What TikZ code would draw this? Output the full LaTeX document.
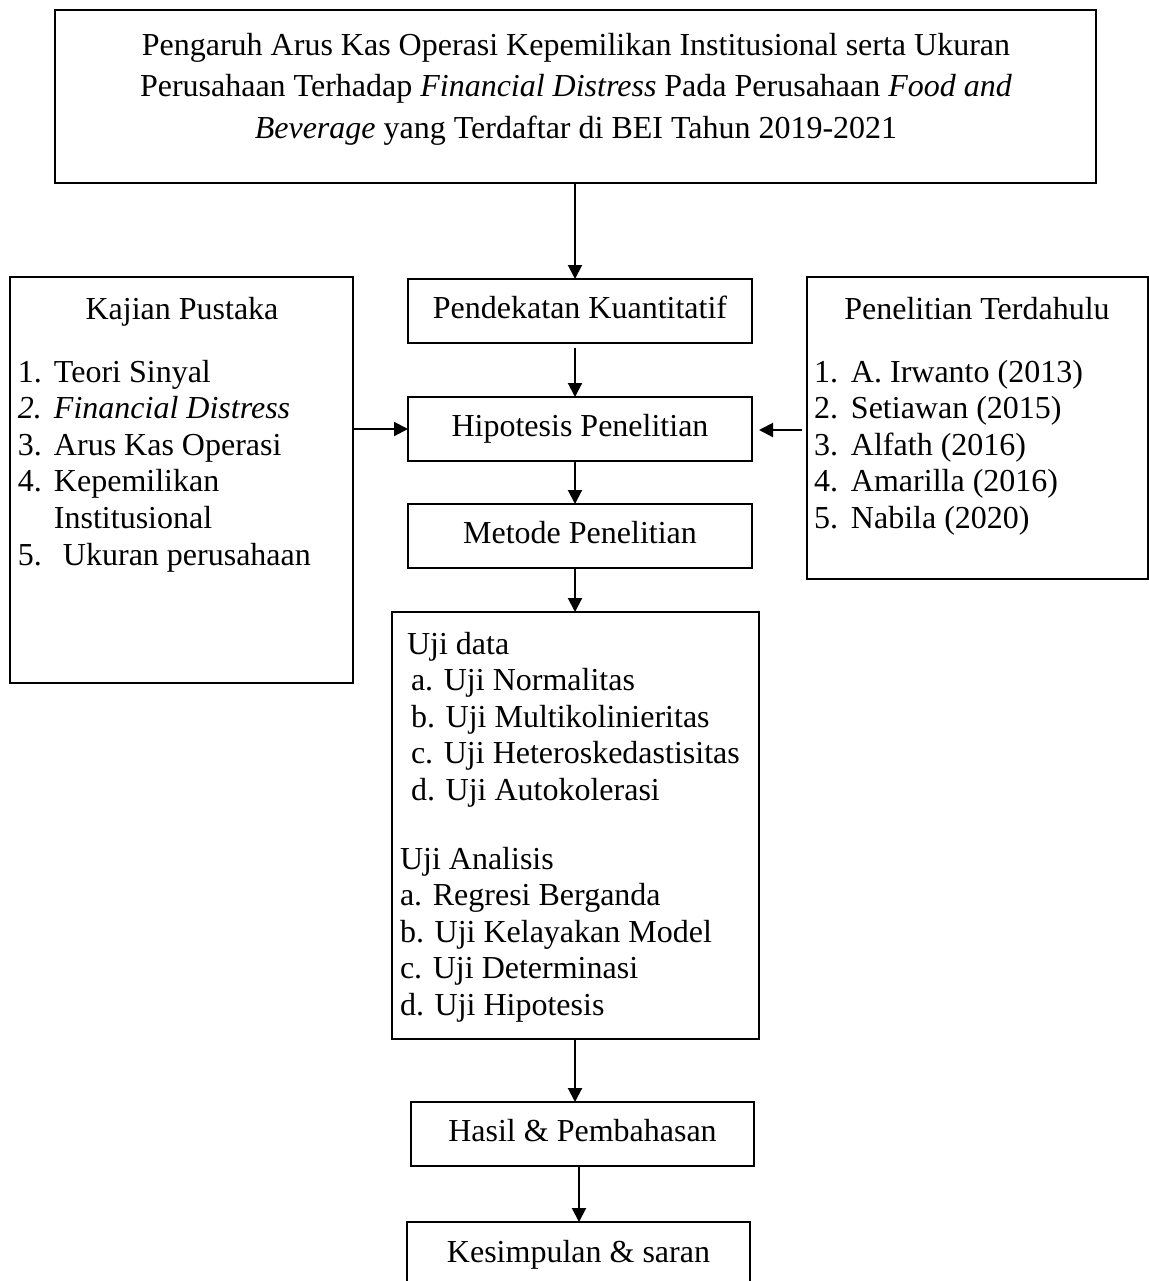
\documentclass[tikz,border=0pt]{standalone}
\usepackage{fontspec}
\setmainfont{Liberation Serif}
\usetikzlibrary{arrows.meta}
\begin{document}
\begin{tikzpicture}[x=0.5pt,y=-0.5pt,
  box/.style={draw,line width=1.1pt,rectangle,inner sep=0pt,outer sep=0pt,
    font=\fontsize{16}{18.3}\selectfont},
  onebox/.style={box,minimum width=172pt,minimum height=32pt,text height=11pt,text depth=3.5pt},
  conn/.style={line width=1pt,-{Triangle[length=7pt,width=7pt]}},
  txt/.style={inner sep=0pt,outer sep=0pt,font=\fontsize{16}{18.3}\selectfont}]
\useasboundingbox (0,0) rectangle (1149,1281);
\fill[white] (0,0) rectangle (1149,1281);

% boxes
\node[box,minimum width=520.5pt,minimum height=86.5pt] (title) at (575.5,96.5) {};
\node[onebox] (pend) at (580,311) {Pendekatan Kuantitatif};
\node[onebox] (hip) at (580,429) {Hipotesis Penelitian};
\node[onebox] (met) at (580,536) {Metode Penelitian};
\node[box,minimum width=183.5pt,minimum height=213.5pt] (uji) at (575.5,825.5) {};
\node[onebox,minimum width=171.5pt] (hasil) at (582.5,1134) {Hasil \& Pembahasan};
\node[onebox,minimum width=171.5pt,minimum height=33pt] (kes) at (578.5,1255) {Kesimpulan \& saran};
\node[box,minimum width=171.5pt,minimum height=203pt] (kaj) at (181.5,480) {};
\node[box,minimum width=170.5pt,minimum height=151pt] (ter) at (977.5,428) {};

% texts
\node[txt,anchor=base] (titletext) at (576,55) {\fontsize{16}{20.75}\selectfont
  \begin{tabular}[t]{@{}c@{}}
  Pengaruh Arus Kas Operasi Kepemilikan Institusional serta Ukuran\\
  Perusahaan Terhadap \textit{Financial Distress} Pada Perusahaan \textit{Food and}\\
  \textit{Beverage} yang Terdaftar di BEI Tahun 2019-2021
  \end{tabular}};

\node[txt,anchor=base] (kajtitle) at (182,319) {Kajian Pustaka};
\node[txt,anchor=base west] (kajlist) at (18,382) {%
  \begin{tabular}[t]{@{}l@{}}
  \makebox[18pt][l]{1.}Teori Sinyal\\
  \textit{\makebox[18pt][l]{2.}Financial Distress}\\
  \makebox[18pt][l]{3.}Arus Kas Operasi\\
  \makebox[18pt][l]{4.}Kepemilikan\\
  \hspace*{18pt}Institusional\\
  \makebox[22.5pt][l]{5.}Ukuran perusahaan
  \end{tabular}};

\node[txt,anchor=base] (tertitle) at (977,319) {Penelitian Terdahulu};
\node[txt,anchor=base west] (terlist) at (814,382) {%
  \begin{tabular}[t]{@{}l@{}}
  \makebox[18.5pt][l]{1.}A. Irwanto (2013)\\
  \makebox[18.5pt][l]{2.}Setiawan (2015)\\
  \makebox[18.5pt][l]{3.}Alfath (2016)\\
  \makebox[18.5pt][l]{4.}Amarilla (2016)\\
  \makebox[18.5pt][l]{5.}Nabila (2020)
  \end{tabular}};

\node[txt,anchor=base west] (ujidata) at (407,654) {%
  \begin{tabular}[t]{@{}l@{}}
  Uji data\\
  \hspace*{2pt}a. Uji Normalitas\\
  \hspace*{2pt}b. Uji Multikolinieritas\\
  \hspace*{2pt}c. Uji Heteroskedastisitas\\
  \hspace*{2pt}d. Uji Autokolerasi
  \end{tabular}};
\node[txt,anchor=base west] (ujianalisis) at (400,869) {%
  \begin{tabular}[t]{@{}l@{}}
  Uji Analisis\\
  a. Regresi Berganda\\
  b. Uji Kelayakan Model\\
  c. Uji Determinasi\\
  d. Uji Hipotesis
  \end{tabular}};

% connectors
\coordinate (ax) at (575,0);
\coordinate (bx) at (579,0);
\coordinate (terend) at (759,430);
\draw[conn] (title.south -| ax) -- (pend.north -| ax);
\draw[conn,shorten <=2.5pt] (pend.south -| ax) -- (hip.north -| ax);
\draw[conn] (hip.south -| ax) -- (met.north -| ax);
\draw[conn] (met.south -| ax) -- (uji.north -| ax);
\draw[conn] (uji.south -| ax) -- (hasil.north -| ax);
\draw[conn] (hasil.south -| bx) -- (kes.north -| bx);
\draw[conn] (kaj.east |- hip.west) -- (hip.west);
\draw[conn,shorten <=2.5pt] (ter.west |- terend) -- (terend);
\end{tikzpicture}
\end{document}
